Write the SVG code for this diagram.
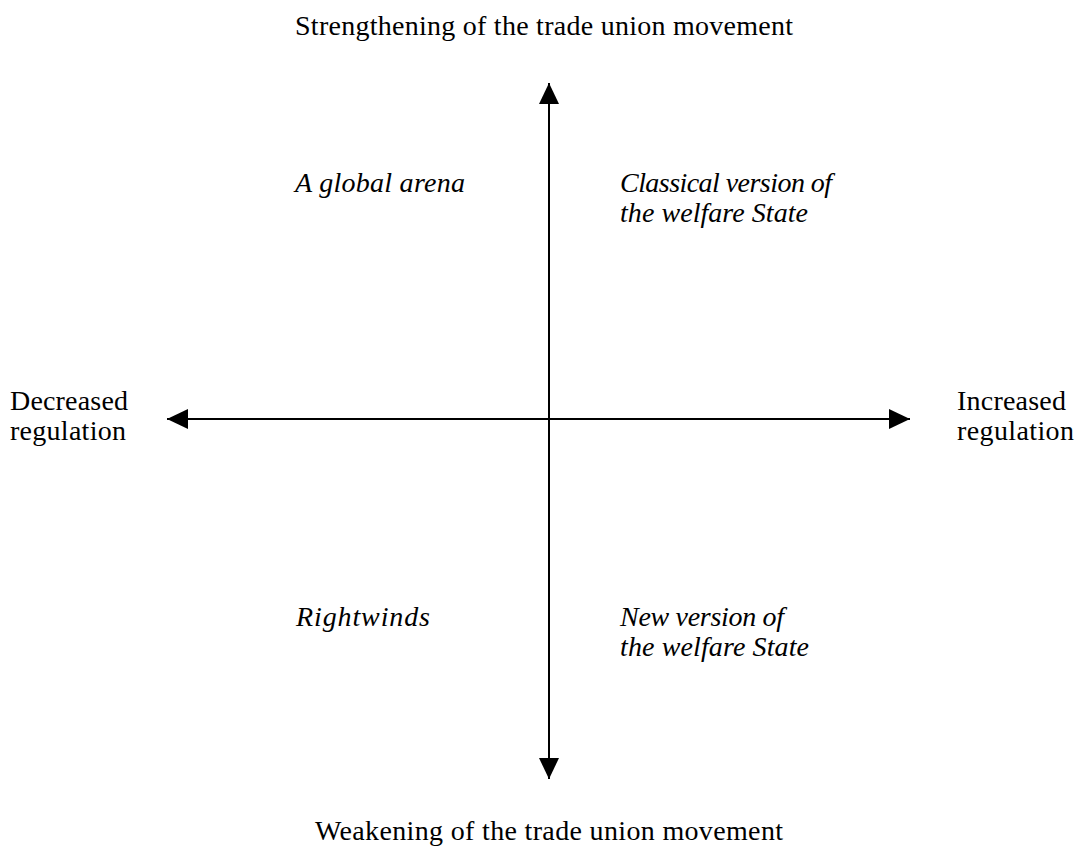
<svg xmlns="http://www.w3.org/2000/svg" width="1079" height="859" viewBox="0 0 1079 859">
<style>
text{font-family:"Liberation Serif","Times New Roman",serif;font-size:28px;fill:#000}
.it{font-style:italic}
.ax{stroke:#000;stroke-width:2;fill:none}
</style>
<defs>
<marker id="ah" markerUnits="userSpaceOnUse" markerWidth="21" markerHeight="20" refX="21" refY="10" orient="auto">
<path d="M0,0 L21,10 L0,20 Z" fill="#000"/>
</marker>
</defs>
<rect width="1079" height="859" fill="#fff"/>
<g id="connectors">
<line class="ax" x1="549" y1="419" x2="549" y2="83" marker-end="url(#ah)"/>
<line class="ax" x1="549" y1="419" x2="549" y2="779" marker-end="url(#ah)"/>
<line class="ax" x1="549" y1="419" x2="167" y2="419" marker-end="url(#ah)"/>
<line class="ax" x1="549" y1="419" x2="910" y2="419" marker-end="url(#ah)"/>
</g>
<g id="top"><text x="295" y="35" textLength="498">Strengthening of the trade union movement</text></g>
<g id="bottom"><text x="315" y="840" textLength="468">Weakening of the trade union movement</text></g>
<g id="left"><text x="10" y="410" textLength="118">Decreased</text><text x="10" y="440" textLength="116">regulation</text></g>
<g id="right"><text x="957" y="410" textLength="109">Increased</text><text x="957" y="440" textLength="117">regulation</text></g>
<g id="q1"><text class="it" x="295" y="192" textLength="170">A global arena</text></g>
<g id="q2"><text class="it" x="620" y="192" textLength="212">Classical version of</text><text class="it" x="620" y="222" textLength="188">the welfare State</text></g>
<g id="q3"><text class="it" x="296" y="626" textLength="134">Rightwinds</text></g>
<g id="q4"><text class="it" x="620" y="626" textLength="164">New version of</text><text class="it" x="620" y="656" textLength="189">the welfare State</text></g>
</svg>
